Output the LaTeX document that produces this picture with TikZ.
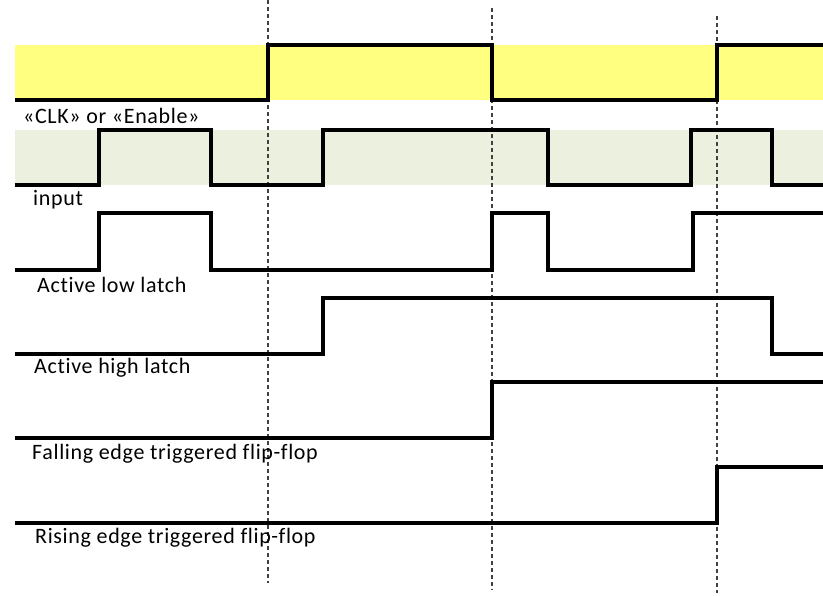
\documentclass[tikz,border=0pt]{standalone}
\usepackage{fontspec}
\setmainfont{Carlito}[Ligatures={NoCommon},LetterSpace=3]
\definecolor{clkband}{HTML}{FFFF80}
\definecolor{inband}{HTML}{EBF1DE}
\definecolor{dashgrey}{HTML}{404040}
\begin{document}
\begin{tikzpicture}[x=1pt,y=-1pt,
  sig/.style={line width=3.4pt,line join=miter,black},
  marker/.style={dashgrey,line width=1.1pt,dash pattern=on 4pt off 3pt},
  lbl/.style={anchor=west,font=\fontsize{22}{24}\selectfont,inner sep=0pt}]
\useasboundingbox (0,0) rectangle (823,596);
\fill[clkband] (15,45) rectangle (823,100);
\fill[inband] (15,130) rectangle (823,185);
% dashed markers
\coordinate (m1t) at (268,0);   \coordinate (m1b) at (268,583);
\coordinate (m2t) at (492,8);   \coordinate (m2b) at (492,590);
\coordinate (m3t) at (717,16);  \coordinate (m3b) at (717,593);
\draw[marker] (m1t) -- (m1b);
\draw[marker] (m2t) -- (m2b);
\draw[marker] (m3t) -- (m3b);
% clock
\draw[sig] (15,100) -- (268,100) -- (268,45) -- (492,45) -- (492,100) -- (717,100) -- (717,45) -- (823,45);
% input
\draw[sig] (15,185) -- (99,185) -- (99,130) -- (211,130) -- (211,185) -- (323,185) -- (323,130) -- (548,130) -- (548,185) -- (691,185) -- (691,130) -- (772,130) -- (772,185) -- (823,185);
% active low latch
\draw[sig] (15,270) -- (99,270) -- (99,213) -- (211,213) -- (211,270) -- (492,270) -- (492,213) -- (548,213) -- (548,270) -- (693,270) -- (693,213) -- (823,213);
% active high latch
\draw[sig] (15,354) -- (323,354) -- (323,298) -- (772,298) -- (772,354) -- (823,354);
% falling edge FF
\draw[sig] (15,438) -- (492,438) -- (492,382) -- (823,382);
% rising edge FF
\draw[sig] (15,523) -- (717,523) -- (717,467) -- (823,467);
% labels
\node[lbl] (l1) at (23,116) {«CLK» or «Enable»};
\node[lbl] (l2) at (33,200) {input};
\node[lbl] (l3) at (37,285) {Active low latch};
\node[lbl] (l4) at (34,368) {Active high latch};
\node[lbl] (l5) at (32,454) {Falling edge triggered flip-flop};
\node[lbl] (l6) at (35,538) {Rising edge triggered flip-flop};
\end{tikzpicture}
\end{document}
